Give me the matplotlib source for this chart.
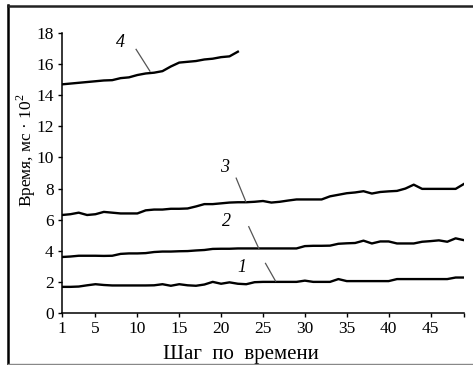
import numpy as np
import matplotlib
matplotlib.use("Agg")
import matplotlib.pyplot as plt
from matplotlib.lines import Line2D

plt.rcParams['font.family'] = ['Liberation Serif', 'DejaVu Serif']
plt.rcParams['mathtext.fontset'] = 'custom'
plt.rcParams['mathtext.rm'] = 'Liberation Serif'

# шаги по времени
shagi = np.arange(1, 50)
shagi_4 = np.arange(1, 23)

# кривые 1..4 (время, мс*10^2)
kriv_1 = [1.68, 1.68, 1.70, 1.78, 1.85, 1.80, 1.77, 1.77, 1.77, 1.77,
          1.77, 1.78, 1.85, 1.75, 1.85, 1.78, 1.75, 1.83, 2.00, 1.88,
          1.97, 1.88, 1.85, 1.98, 2.00, 2.00, 2.00, 2.00, 2.00, 2.08,
          2.00, 2.00, 2.00, 2.18, 2.05, 2.05, 2.05, 2.05, 2.05, 2.05,
          2.18, 2.18, 2.18, 2.18, 2.18, 2.18, 2.18, 2.28, 2.28]
kriv_2 = [3.60, 3.63, 3.68, 3.68, 3.68, 3.67, 3.68, 3.80, 3.83, 3.83,
          3.85, 3.92, 3.95, 3.95, 3.97, 3.98, 4.02, 4.05, 4.12, 4.13,
          4.13, 4.15, 4.15, 4.15, 4.15, 4.15, 4.15, 4.15, 4.15, 4.30,
          4.32, 4.32, 4.33, 4.45, 4.48, 4.50, 4.65, 4.47, 4.60, 4.60,
          4.47, 4.47, 4.47, 4.58, 4.62, 4.67, 4.58, 4.80, 4.68]
kriv_3 = [6.30, 6.35, 6.45, 6.30, 6.35, 6.50, 6.45, 6.40, 6.40, 6.40,
          6.60, 6.65, 6.65, 6.70, 6.70, 6.72, 6.85, 7.00, 7.00, 7.05,
          7.10, 7.12, 7.12, 7.15, 7.20, 7.10, 7.15, 7.23, 7.30, 7.30,
          7.30, 7.30, 7.50, 7.60, 7.70, 7.75, 7.83, 7.68, 7.78, 7.82,
          7.85, 8.00, 8.25, 7.98, 7.98, 7.98, 7.98, 7.98, 8.30]
kriv_4 = [14.70, 14.75, 14.80, 14.85, 14.90, 14.95, 14.97, 15.10, 15.15, 15.30,
          15.40, 15.45, 15.55, 15.85, 16.10, 16.15, 16.20, 16.30, 16.35, 16.45,
          16.50, 16.80]

fig = plt.figure(figsize=(4.73, 3.65), dpi=100)
ax = fig.add_axes([0.131, 0.1425, 0.850, 0.767])

for y, x in [(kriv_1, shagi), (kriv_2, shagi), (kriv_3, shagi), (kriv_4, shagi_4)]:
    ax.plot(x, y, color='black', lw=1.7, solid_joinstyle='round')

# подписи кривых с выносками
podpisi = [('1', (22.5, 2.93), (25.3, 3.19), (26.5, 2.05)),
           ('2', (20.7, 5.87), (23.3, 5.55), (24.5, 4.15)),
           ('3', (20.35, 9.38), (21.8, 8.67), (22.95, 7.16)),
           ('4', (8.0, 17.38), (9.85, 16.95), (11.5, 15.55))]
for txt, pos, p0, p1 in podpisi:
    ax.text(pos[0], pos[1], txt, fontsize=13, style='italic', ha='center', va='center')
    ax.plot([p0[0], p1[0]], [p0[1], p1[1]], color='#555555', lw=0.9)

ax.set_xlim(1, 49)
ax.set_ylim(0, 18)
ax.set_xticks([1, 5, 10, 15, 20, 25, 30, 35, 40, 45, 49])
ax.set_xticklabels(['1', '5', '10', '15', '20', '25', '30', '35', '40', '45', ''])
ax.set_yticks(range(0, 19, 2))
ax.tick_params(labelsize=12.5, length=3, width=1, pad=3, direction='out')
ax.spines['top'].set_visible(False)
ax.spines['right'].set_visible(False)
ax.spines['left'].set_linewidth(1.1)
ax.spines['bottom'].set_linewidth(1.1)

ax.set_xlabel('Шаг  по  времени', fontsize=15)
ax.xaxis.set_label_coords(0.445, -0.115)
ax.set_ylabel('Время, мс · 10$^2$', fontsize=12.5)
ax.yaxis.set_label_coords(-0.06, 0.58)

# рамка рисунка
fig.add_artist(Line2D([0.016, 0.016], [0.0, 0.985], color='black', lw=1.8, transform=fig.transFigure))
fig.add_artist(Line2D([0.016, 1.0], [0.984, 0.984], color='#222222', lw=1.8, transform=fig.transFigure))
fig.add_artist(Line2D([0.016, 1.0], [0.004, 0.004], color='#888888', lw=1.0, transform=fig.transFigure))

fig.savefig('out.png', dpi=100)
